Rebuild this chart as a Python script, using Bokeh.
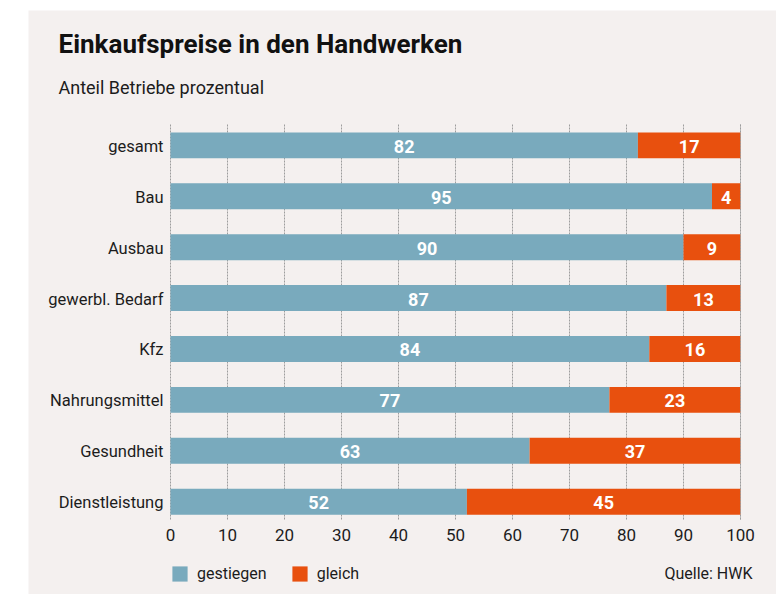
from bokeh.plotting import figure
from bokeh.models import Range1d, ColumnDataSource, Legend, LegendItem
from bokeh.core.properties import value
from bokeh.embed import file_html
from bokeh.resources import INLINE

# ---- data ----
categories = ["gesamt", "Bau", "Ausbau", "gewerbl. Bedarf", "Kfz",
              "Nahrungsmittel", "Gesundheit", "Dienstleistung"]
gestiegen = [82, 95, 90, 87, 84, 77, 63, 52]
gleich = [17, 4, 9, 13, 16, 23, 37, 45]
x_ticks = [0, 10, 20, 30, 40, 50, 60, 70, 80, 90, 100]
total = 100
title_text = "Einkaufspreise in den Handwerken"
subtitle_text = "Anteil Betriebe prozentual"
source_text = "Quelle: HWK"
legend_labels = ["gestiegen", "gleich"]

# ---- style / layout ----
FONT = value("Roboto")
BG = "#f4f0ef"
BLUE = "#79aabd"
ORANGE = "#e8500e"
INK = "#1c1c1c"
GRID = "#9d9d9d"

WIN_W, WIN_H = 776, 594
OX, OY = 28, 10                       # white strip left / top
F_LEFT, F_RIGHT, F_TOP, F_BOTTOM = 170, 740, 124, 519   # bar area (window px)
Y_TOP, Y_BOTTOM = -0.41, 7.35
BAR_H = 0.51


def fx(px):
    return (px - F_LEFT) / (F_RIGHT - F_LEFT) * total


def fy(py):
    return Y_TOP + (py - F_TOP) * (Y_BOTTOM - Y_TOP) / (F_BOTTOM - F_TOP)


idx = list(range(len(categories)))
src = ColumnDataSource(dict(
    y=idx,
    cat=categories,
    g=gestiegen,
    tot=[total] * len(idx),
    g_mid=[v / 2 for v in gestiegen],
    l_mid=[(v + total) / 2 for v in gestiegen],
    g_txt=[str(v) for v in gestiegen],
    l_txt=[str(v) for v in gleich],
))
tick_src = ColumnDataSource(dict(x=x_ticks, lab=[str(t) for t in x_ticks]))

p = figure(width=WIN_W - OX, height=WIN_H - OY, output_backend="svg",
           toolbar_location=None,
           x_range=Range1d(fx(OX), fx(WIN_W)),
           y_range=Range1d(fy(WIN_H), fy(OY)),
           min_border=0, background_fill_color=BG, border_fill_color=BG,
           outline_line_color=None, x_axis_type=None, y_axis_type=None)
p.margin = (OY, 0, 0, OX)
p.xgrid.visible = False
p.ygrid.visible = False

# dotted vertical grid lines at the tick positions
p.segment(x0="x", y0=Y_TOP, x1="x", y1=Y_BOTTOM, source=tick_src,
          line_color=GRID, line_dash="2 1", line_width=1)

# bars
r_blue = p.hbar(y="y", left=0, right="g", height=BAR_H, source=src,
                fill_color=BLUE, line_color=None)
r_orange = p.hbar(y="y", left="g", right="tot", height=BAR_H, source=src,
                  fill_color=ORANGE, line_color=None)

# the 100 grid line stays visible on the bar ends
p.segment(x0=[x_ticks[-1]], y0=Y_TOP, x1=[x_ticks[-1]], y1=Y_BOTTOM,
          line_color=GRID, line_dash="2 1", line_width=1, line_alpha=0.8)

# value labels
for xcol, tcol in (("g_mid", "g_txt"), ("l_mid", "l_txt")):
    p.text(x=xcol, y="y", text=tcol, source=src, text_align="center",
           text_baseline="middle", text_color="white", text_font=FONT,
           text_font_style="bold", text_font_size=value("18px"), y_offset=1)

# category labels (y axis)
p.text(x=0, y="y", text="cat", source=src, x_offset=-7, text_align="right",
       text_baseline="middle", text_color=INK, text_font=FONT,
       text_font_size=value("16.5px"), y_offset=1)

# tick labels (x axis)
p.text(x="x", y=Y_BOTTOM, text="lab", source=tick_src, y_offset=15,
       text_align="center", text_baseline="middle", text_color=INK,
       text_font=FONT, text_font_size=value("17px"))

# title, subtitle, source
p.text(x=[fx(58)], y=[fy(43)], text=[title_text], text_align="left",
       text_baseline="middle", text_color="#111111", text_font=FONT,
       text_font_style="bold", text_font_size=value("26px"))
p.text(x=[fx(58)], y=[fy(87)], text=[subtitle_text], text_align="left",
       text_baseline="middle", text_color=INK, text_font=FONT,
       text_font_size=value("18px"))
p.text(x=[fx(752)], y=[fy(573)], text=[source_text], text_align="right",
       text_baseline="middle", text_color=INK, text_font=FONT,
       text_font_size=value("16px"))

# legend
legend = Legend(items=[LegendItem(label=legend_labels[0], renderers=[r_blue]),
                       LegendItem(label=legend_labels[1], renderers=[r_orange])],
                orientation="horizontal",
                location=(F_LEFT - OX, WIN_H - 583),
                padding=0, margin=0, spacing=23,
                glyph_width=19, glyph_height=19, label_height=19,
                label_standoff=8, label_text_font="Roboto",
                label_text_font_size="16px", label_text_color=INK,
                label_text_baseline="middle",
                border_line_color=None, background_fill_alpha=0)
p.add_layout(legend, "center")

open("out.html", "w").write(file_html(p, INLINE))
